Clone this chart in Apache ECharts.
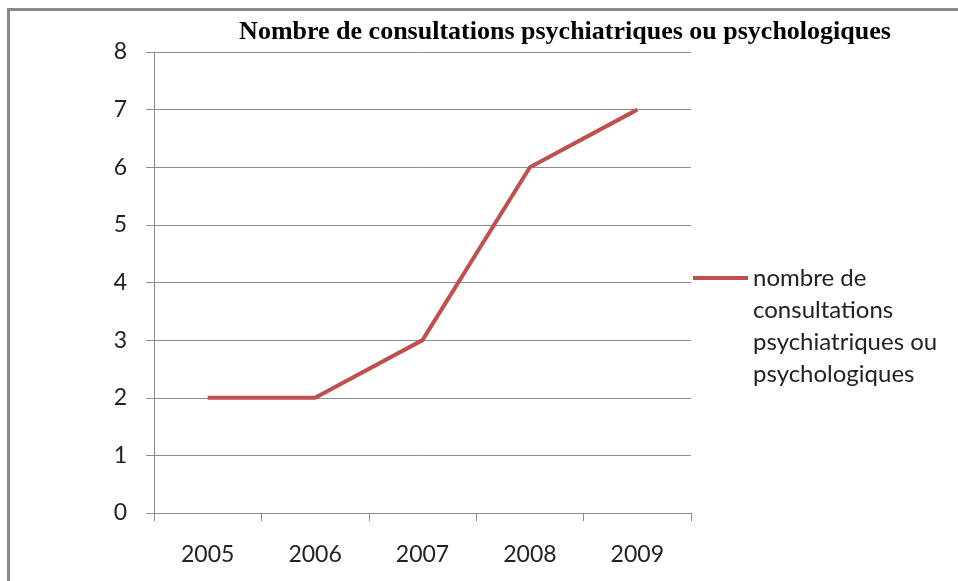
<!DOCTYPE html>
<html>
<head>
<meta charset="utf-8">
<script src="https://cdn.jsdelivr.net/npm/echarts@6/dist/echarts.min.js"></script>
<style>
  html, body { margin: 0; padding: 0; background: #fff; overflow: hidden; width: 958px; height: 581px; }
  #Mycharts { position: absolute; left: 0; top: 0; width: 958px; height: 581px; }
  #frame {
    position: absolute; left: 7px; top: 8px; width: 951px; height: 573px;
    border-top: 3px solid #8a8a8a; border-left: 3px solid #8a8a8a;
    box-sizing: border-box;
    pointer-events: none;
  }
</style>
</head>
<body>
<div id="Mycharts"></div>
<div id="frame"></div>
<script>
// données
const years = ['2005', '2006', '2007', '2008', '2009']
const consultations = [2, 2, 3, 6, 7]
const seriesName = 'nombre de consultations psychiatriques ou psychologiques'
const chartTitle = 'Nombre de consultations psychiatriques ou psychologiques'
// légende sur 4 lignes, le trait aligné sur la première (3 lignes vides au-dessus)
const legendLines = ['', '', '', 'nombre de', 'consultations', 'psychiatriques ou', 'psychologiques']

let Mycharts = echarts.init(document.getElementById('Mycharts'))
Mycharts.setOption({
  animation: false,
  title: {
    text: chartTitle,
    left: 560,
    textAlign: 'center',
    top: 14,
    textStyle: {
      fontFamily: 'Liberation Serif',
      fontWeight: 'bold',
      fontSize: 26,
      color: '#000'
    }
  },
  legend: {
    data: [seriesName],
    orient: 'vertical',
    left: 693,
    top: 166,
    padding: 0,
    itemWidth: 55,
    itemHeight: 4,
    itemGap: 0,
    icon: 'rect',
    formatter: function () {
      return legendLines.join('\n')
    },
    textStyle: {
      fontFamily: 'Lato',
      fontSize: 24,
      lineHeight: 32,
      color: '#222'
    }
  },
  grid: {
    left: 154,
    right: 267,
    top: 52,
    bottom: 68,
    containLabel: false
  },
  xAxis: {
    type: 'category',
    data: years,
    boundaryGap: true,
    axisLine: { lineStyle: { color: '#8c8c8c', width: 1 } },
    axisTick: { show: true, length: 8, alignWithLabel: false, lineStyle: { color: '#8c8c8c' } },
    axisLabel: { fontFamily: 'Lato', fontSize: 23, color: '#222', margin: 30 }
  },
  yAxis: {
    type: 'value',
    min: 0,
    max: 8,
    interval: 1,
    axisLine: { show: true, lineStyle: { color: '#8c8c8c', width: 1 } },
    axisTick: { show: true, inside: false, length: 8, lineStyle: { color: '#8c8c8c' } },
    splitLine: { show: true, lineStyle: { color: '#8c8c8c', width: 1 } },
    axisLabel: { fontFamily: 'Lato', fontSize: 23, color: '#222', margin: 27 }
  },
  series: [
    {
      name: seriesName,
      type: 'line',
      data: consultations,
      symbol: 'none',
      lineStyle: { color: '#c0504d', width: 4 },
      itemStyle: { color: '#c0504d' }
    }
  ]
})
</script>
</body>
</html>
